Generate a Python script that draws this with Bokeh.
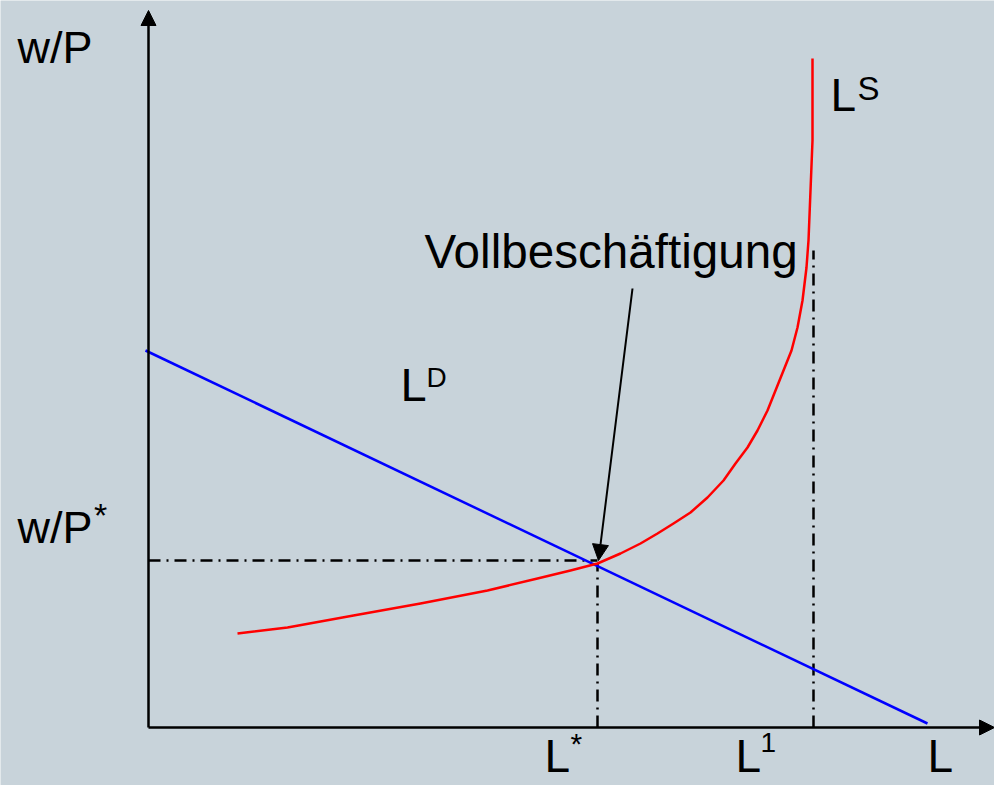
from bokeh.plotting import figure
from bokeh.models import Range1d, Arrow, NormalHead
from bokeh.core.properties import value
from bokeh.embed import file_html
from bokeh.resources import INLINE

# ---- data (labour market diagram, arbitrary units) ----
LD_L = [-0.03, 7.79]            # labour demand L^D
LD_W = [3.77, 0.04]
LS_L = [0.89, 1.39, 2.05, 2.72, 3.39, 3.89, 4.22, 4.49, 4.72, 4.92, 5.09,
        5.25, 5.42, 5.59, 5.75, 5.87, 5.99, 6.09, 6.19, 6.27, 6.35, 6.43,
        6.49, 6.54, 6.58, 6.60, 6.62, 6.64, 6.64]   # labour supply L^S
LS_W = [0.94, 1.00, 1.12, 1.24, 1.37, 1.49, 1.57, 1.64, 1.74, 1.84, 1.94,
        2.04, 2.15, 2.30, 2.47, 2.64, 2.80, 2.97, 3.17, 3.37, 3.57, 3.77,
        4.00, 4.27, 4.60, 4.87, 5.37, 5.87, 6.69]
L_STAR = 4.49
W_STAR = 1.67
L_ONE = 6.65
L_ONE_TOP = 4.77
Y_AXIS_TOP = 7.17
X_AXIS_END = 8.46
CALLOUT = "Vollbeschäftigung"
Y_LABEL = "w/P"
X_LABEL = "L"

BG = "#c8d3da"
FONT = value("Liberation Sans")

p = figure(width=994, height=785, output_backend="svg", toolbar_location=None,
           x_range=Range1d(-1.48, 8.46), y_range=Range1d(-0.58, 7.27),
           min_border=0, background_fill_color=BG, border_fill_color=BG,
           outline_line_color=None)
p.axis.visible = False
p.grid.visible = False

# dash-dot guides
DD = "12 6 2 6"
p.line([0, L_STAR], [W_STAR, W_STAR], line_color="black", line_width=2.5, line_dash=DD)
p.line([L_STAR, L_STAR], [0, W_STAR - 0.03], line_color="black", line_width=2.5, line_dash=DD)
p.line([L_ONE, L_ONE], [0, L_ONE_TOP], line_color="black", line_width=2.5, line_dash=DD)

# curves
p.line(LD_L, LD_W, line_color="#0000ff", line_width=2.5)
p.line(LS_L, LS_W, line_color="#ff0000", line_width=2.5, line_join="round")

# axes with arrowheads
p.add_layout(Arrow(end=NormalHead(size=15, fill_color="black", line_color="black"),
                   x_start=0, y_start=0, x_end=0, y_end=Y_AXIS_TOP,
                   line_width=2.5, line_color="black"))
p.add_layout(Arrow(end=NormalHead(size=15, fill_color="black", line_color="black"),
                   x_start=0, y_start=0, x_end=X_AXIS_END, y_end=0,
                   line_width=2.5, line_color="black"))

# callout arrow
p.add_layout(Arrow(end=NormalHead(size=16, fill_color="black", line_color="black"),
                   x_start=4.84, y_start=4.39, x_end=L_STAR + 0.01, y_end=W_STAR,
                   line_width=2, line_color="black"))


def txt(x, y, s, size):
    p.text(x=[x], y=[y], text=[s], text_font=FONT, text_font_size=size,
           text_color="black", text_align="left", text_baseline="alphabetic")


txt(-1.31, 6.80, Y_LABEL, "45px")
txt(-1.31, 2.00, Y_LABEL, "45px")
txt(-0.545, 2.13, "*", "34px")

txt(2.76, 4.76, CALLOUT, "47.6px")

txt(2.52, 3.43, "L", "47px")
txt(2.78, 3.50, "D", "28px")
txt(6.82, 6.33, "L", "46px")
txt(7.09, 6.39, "S", "33px")

txt(3.96, -0.28, "L", "46px")
txt(4.22, -0.16, "*", "30px")
txt(5.87, -0.28, "L", "46px")
txt(6.12, -0.15, "1", "28px")
txt(7.79, -0.28, X_LABEL, "46px")

open("out.html", "w").write(file_html(p, INLINE))
